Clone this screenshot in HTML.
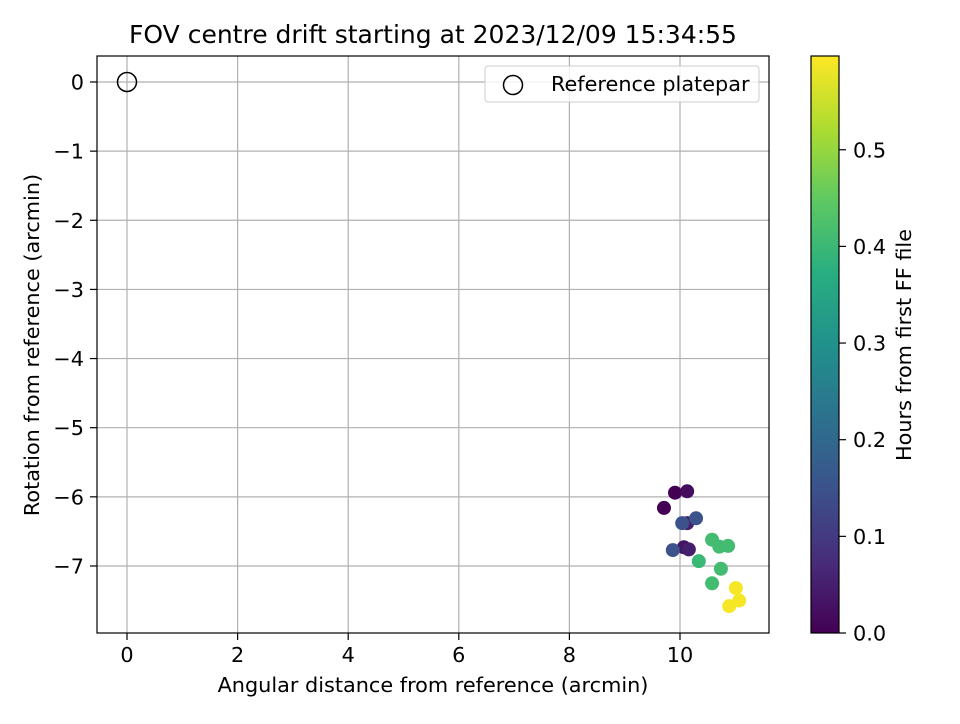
<!DOCTYPE html>
<html><head><meta charset="utf-8"><style>
body{margin:0;background:#fff;font-family:"DejaVu Sans","Liberation Sans",sans-serif}
</style></head><body>
<svg id="c" width="960" height="720" xmlns="http://www.w3.org/2000/svg" font-family="DejaVu Sans, Liberation Sans, sans-serif">
<defs><linearGradient id="vir" x1="0" y1="1" x2="0" y2="0">
<stop offset="0" stop-color="#440154"/><stop offset="0.125" stop-color="#472d7b"/><stop offset="0.25" stop-color="#3b528b"/><stop offset="0.375" stop-color="#2c728e"/><stop offset="0.5" stop-color="#21918c"/><stop offset="0.625" stop-color="#28ae80"/><stop offset="0.75" stop-color="#5ec962"/><stop offset="0.875" stop-color="#addc30"/><stop offset="1" stop-color="#fde725"/></linearGradient></defs>
<g id="grid"></g><g id="pts"></g><g id="axes"></g>
</svg>
<script>
const xs=[9.91,10.13,9.71,10.13,10.04,10.29,10.07,10.16,9.87,10.58,10.71,10.87,10.34,10.74,10.58,11.01,11.07,10.89];
const ys=[-5.94,-5.92,-6.16,-6.38,-6.38,-6.31,-6.73,-6.76,-6.77,-6.62,-6.72,-6.71,-6.93,-7.04,-7.25,-7.32,-7.50,-7.58];
const hours=[0.0,0.02,0.0,0.05,0.15,0.15,0.03,0.05,0.15,0.41,0.41,0.41,0.40,0.41,0.41,0.59,0.59,0.59];
const xTicks=[0,2,4,6,8,10];
const yTicks=[0,-1,-2,-3,-4,-5,-6,-7];
const cTicks=[0.0,0.1,0.2,0.3,0.4,0.5];
const hMax=0.597;
const L=97,R=769,T=56,B=633;
const sx=v=>127+v*55.3, sy=v=>82-v*69.14;
const svg=document.getElementById('c'),NS='http://www.w3.org/2000/svg';
function mk(tag,at,parent,txt){const e=document.createElementNS(NS,tag);for(const k in at)e.setAttribute(k,at[k]);if(txt!==undefined)e.textContent=txt;(parent||svg).appendChild(e);return e;}
const vir=[[68,1,84],[71,45,123],[59,82,139],[44,114,142],[33,145,140],[40,174,128],[94,201,98],[173,220,48],[253,231,37]];
function col(t){t=Math.max(0,Math.min(1,t))*8;const i=Math.min(7,Math.floor(t)),f=t-i,a=vir[i],b=vir[i+1];return `rgb(${a.map((v,k)=>Math.round(v+(b[k]-v)*f)).join(',')})`;}
const g=document.getElementById('grid'),p=document.getElementById('pts'),ax=document.getElementById('axes');
const FS=20.8;
xTicks.forEach(v=>{const x=sx(v);
let e=mk('line',{x1:x,x2:x,y1:T,y2:B,stroke:'#b0b0b0','stroke-width':1.2},g);
e=mk('line',{x1:x,x2:x,y1:B,y2:B+7,stroke:'#000','stroke-width':1.2},ax);
e=mk('text',{x:x,y:B+29,'font-size':FS,'text-anchor':'middle'},ax,String(v));});
yTicks.forEach(v=>{const y=sy(v);
let e=mk('line',{x1:L,x2:R,y1:y,y2:y,stroke:'#b0b0b0','stroke-width':1.2},g);
e=mk('line',{x1:L-7,x2:L,y1:y,y2:y,stroke:'#000','stroke-width':1.2},ax);
e=mk('text',{x:L-13,y:y+7.5,'font-size':FS,'text-anchor':'end'},ax,v<0?'\u2212'+(-v):String(v));});
let e=mk('circle',{cx:sx(0),cy:sy(0),r:9.5,fill:'none',stroke:'#000','stroke-width':1.5},p);
xs.forEach((v,i)=>{const c=mk('circle',{cx:sx(v),cy:sy(ys[i]),r:7,fill:col(hours[i]/hMax)},p);});
e=mk('rect',{x:L,y:T,width:R-L,height:B-T,fill:'none',stroke:'#000','stroke-width':1.2},ax);
e=mk('text',{x:433,y:43,'font-size':25,'text-anchor':'middle'},ax,'FOV centre drift starting at 2023/12/09 15:34:55');
e=mk('text',{x:433,y:692,'font-size':FS,'text-anchor':'middle'},ax,'Angular distance from reference (arcmin)');
e=mk('text',{x:39,y:345,'font-size':FS,'text-anchor':'middle',transform:'rotate(-90 39 345)'},ax,'Rotation from reference (arcmin)');
const lg=mk('g',{},ax);
mk('rect',{x:485,y:66,width:274,height:36,rx:3,fill:'#fff','fill-opacity':0.8,stroke:'#ccc'},lg);
mk('circle',{cx:513,cy:85,r:9.5,fill:'none',stroke:'#000','stroke-width':1.5},lg);
e=mk('text',{x:551,y:91,'font-size':FS},lg,'Reference platepar');
const cbT=56,cbB=633;const cy=v=>cbB-v/hMax*(cbB-cbT);
e=mk('rect',{x:811,y:cbT,width:28,height:cbB-cbT,fill:'url(#vir)',stroke:'#000','stroke-width':1.2},ax);
cTicks.forEach(v=>{const y=cy(v);
let t=mk('line',{x1:839,x2:846,y1:y,y2:y,stroke:'#000','stroke-width':1.2},ax);
t=mk('text',{x:853,y:y+7.5,'font-size':FS},ax,v.toFixed(1));});
e=mk('text',{x:911,y:345,'font-size':FS,'text-anchor':'middle',transform:'rotate(-90 911 345)'},ax,'Hours from first FF file');
</script></body></html>
